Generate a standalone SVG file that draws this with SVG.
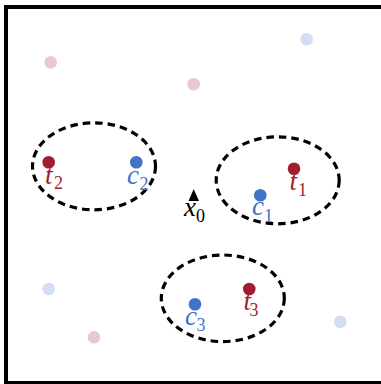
<svg xmlns="http://www.w3.org/2000/svg" width="381" height="384" viewBox="0 0 381 384">
<style>
.frame{stroke:#000;stroke-width:4;fill:none}
.ell{fill:none;stroke:#000;stroke-width:3.2;stroke-dasharray:7.5 5}
.t{fill:#a11d2f}
.c{fill:#4472c8}
.tl{fill:#e8c9cd}
.cl{fill:#d3def2}
.lbl{font-family:"Liberation Serif",serif;font-style:italic;font-size:27px}
.sub{font-style:normal;font-size:18px}
</style>
<rect width="381" height="384" fill="#fff"/>
<g id="frame">
<line class="frame" x1="6" y1="5" x2="6" y2="384"/>
<line class="frame" x1="4" y1="7" x2="381" y2="7"/>
<line class="frame" x1="4" y1="383" x2="381" y2="383"/>
</g>
<g id="connectors">
<ellipse id="e2" class="ell" cx="94" cy="166.3" rx="61.5" ry="43.5"/>
<ellipse id="e1" class="ell" cx="277.7" cy="180.3" rx="61.5" ry="43.5"/>
<ellipse id="e3" class="ell" cx="222.8" cy="298.3" rx="61.5" ry="43.3"/>
</g>
<g id="faint">
<circle class="tl" cx="50.7" cy="62.3" r="6.3"/>
<circle class="cl" cx="306.7" cy="39.3" r="6.3"/>
<circle class="tl" cx="193.7" cy="84.3" r="6.3"/>
<circle class="cl" cx="48.7" cy="289" r="6.3"/>
<circle class="tl" cx="94" cy="337.3" r="6.3"/>
<circle class="cl" cx="340.3" cy="321.7" r="6.3"/>
</g>
<g id="t2">
<circle class="t" cx="48.7" cy="162.3" r="6.3"/>
<text class="lbl t" x="45" y="184">t<tspan class="sub" x="54" y="189">2</tspan></text>
</g>
<g id="c2">
<circle class="c" cx="136.3" cy="162.3" r="6.3"/>
<text class="lbl c" x="127" y="184">c<tspan class="sub" x="139.5" y="190">2</tspan></text>
</g>
<g id="t1">
<circle class="t" cx="294" cy="168.7" r="6.3"/>
<text class="lbl t" x="289.5" y="190">t<tspan class="sub" x="298" y="196">1</tspan></text>
</g>
<g id="c1">
<circle class="c" cx="260.3" cy="195.3" r="6.3"/>
<text class="lbl c" x="252" y="215">c<tspan class="sub" x="264" y="222">1</tspan></text>
</g>
<g id="x0">
<polygon points="188.5,201 199,201 193.7,189" fill="#000"/>
<text class="lbl" x="184" y="216" fill="#000">x<tspan class="sub" x="196" y="222">0</tspan></text>
</g>
<g id="t3">
<circle class="t" cx="249.3" cy="289" r="6.3"/>
<text class="lbl t" x="243.5" y="310">t<tspan class="sub" x="249.5" y="316">3</tspan></text>
</g>
<g id="c3">
<circle class="c" cx="195" cy="304.3" r="6.3"/>
<text class="lbl c" x="185" y="325">c<tspan class="sub" x="196.5" y="331">3</tspan></text>
</g>
</svg>
